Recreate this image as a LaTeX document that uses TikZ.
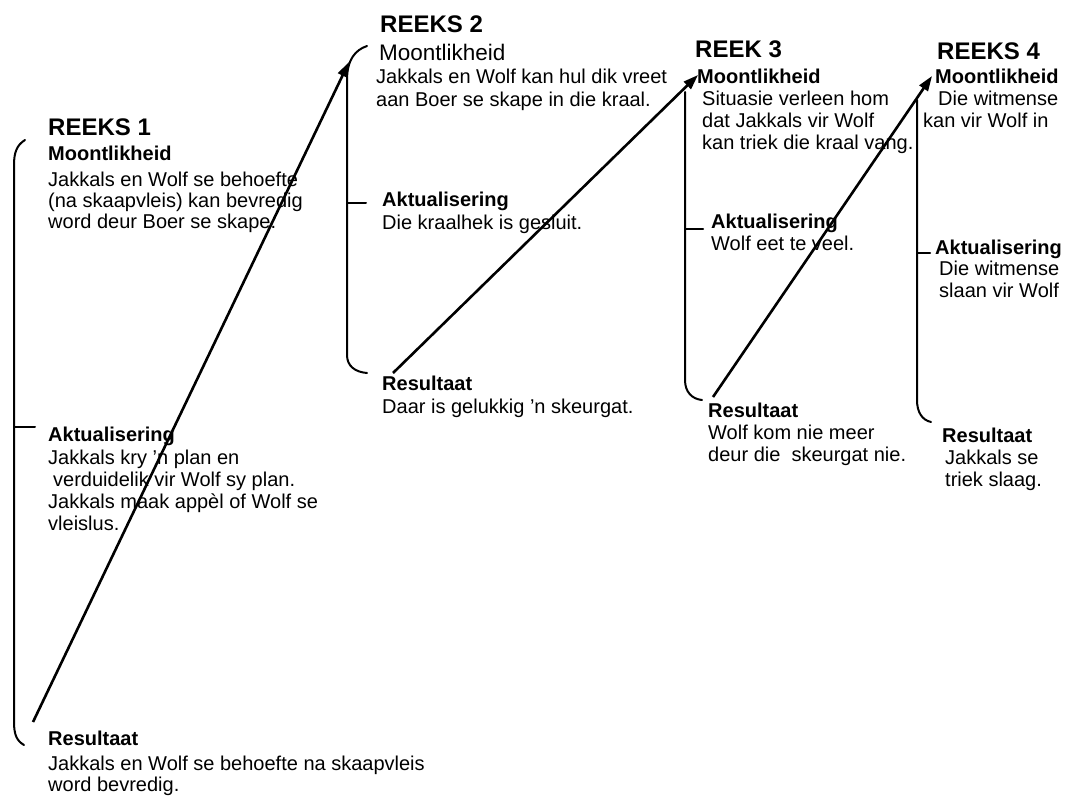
\documentclass[tikz,border=0pt]{standalone}
\usepackage{fontspec}
\setmainfont{Liberation Sans}
\usetikzlibrary{arrows.meta}
\begin{document}
\begin{tikzpicture}[x=1pt,y=-1pt,
  hdr/.style={font=\fontsize{24}{24}\selectfont\bfseries, anchor=base west, inner sep=0pt},
  sub/.style={font=\fontsize{20}{20}\selectfont\bfseries, anchor=base west, inner sep=0pt},
  subreg/.style={font=\fontsize{22.5}{22.5}\selectfont, anchor=base west, inner sep=0pt},
  txt/.style={font=\fontsize{20}{#1}\selectfont, anchor=base west, inner sep=0pt, align=left},
  txt/.default=22,
  brace/.style={line width=2pt, line cap=round},
  flow/.style={line width=2.6pt, -{Triangle[length=15pt,width=10pt]}},
]
\useasboundingbox (0,0) rectangle (1067,796);
% multi-line texts are placed at the baseline of their LAST line
% ---------- REEKS 1
\node[hdr] (r1) at (48,135) {REEKS 1};
\node[sub] (r1m) at (48,160) {Moontlikheid};
\node[txt=21] (r1mt) at (48,228) {Jakkals en Wolf se behoefte\\(na skaapvleis) kan bevredig\\word deur Boer se skape.};
\node[sub] (r1a) at (48,441) {Aktualisering};
\node[txt=22] (r1at) at (48,530) {Jakkals kry 'n plan en\\\hspace{5pt}verduidelik vir Wolf sy plan.\\Jakkals maak app\`el of Wolf se\\vleislus.};
\node[sub] (r1r) at (48,745) {Resultaat};
\node[txt=21] (r1rt) at (48,791) {Jakkals en Wolf se behoefte na skaapvleis\\word bevredig.};
\draw[brace] (25,140) .. controls (17,145) and (14,152) .. (14,165) -- (14,722) .. controls (14,735) and (17,741) .. (24,745);
\draw[brace] (14,427) -- (35,427);
% ---------- REEKS 2
\node[hdr] (r2) at (380,32) {REEKS 2};
\node[subreg] (r2m) at (379,60) {Moontlikheid};
\node[txt=23] (r2mt) at (376,106) {Jakkals en Wolf kan hul dik vreet\\aan Boer se skape in die kraal.};
\node[sub] (r2a) at (382,206) {Aktualisering};
\node[txt] (r2at) at (382,229) {Die kraalhek is gesluit.};
\node[sub] (r2r) at (382,390) {Resultaat};
\node[txt] (r2rt) at (382,413) {Daar is gelukkig 'n skeurgat.};
\draw[brace] (367,46) .. controls (355,50) and (347,60) .. (347,80) -- (347,355) .. controls (347,366) and (355,372) .. (367,373);
\draw[brace] (347,203) -- (366,203);
% ---------- REEK 3
\node[hdr] (r3) at (695,57) {REEK 3};
\node[sub] (r3m) at (697,83) {Moontlikheid};
\node[txt] (r3mt) at (702,149) {Situasie verleen hom\\dat Jakkals vir Wolf\\kan triek die kraal vang.};
\node[sub] (r3a) at (711,228) {Aktualisering};
\node[txt] (r3at) at (711,250) {Wolf eet te veel.};
\node[sub] (r3r) at (708,417) {Resultaat};
\node[txt] (r3rt) at (708,461) {Wolf kom nie meer\\deur die\ \ skeurgat nie.};
\draw[brace] (685,92) -- (685,380) .. controls (685,392) and (692,399) .. (702,400);
\draw[brace] (685,229) -- (703,229);
% ---------- REEKS 4
\node[hdr] (r4) at (937,59) {REEKS 4};
\node[sub] (r4m) at (935,83) {Moontlikheid};
\node[txt] (r4mt) at (923,127) {\hspace{15pt}Die witmense\\kan vir Wolf in};
\node[sub] (r4a) at (935,254) {Aktualisering};
\node[txt] (r4at) at (939,297) {Die witmense\\slaan vir Wolf};
\node[sub] (r4r) at (942,442) {Resultaat};
\node[txt] (r4rt) at (945,486) {Jakkals se\\triek slaag.};
\draw[brace] (917,100) -- (917,400) .. controls (917,412) and (922,420) .. (931,422);
\draw[brace] (917,253) -- (930,253);
% ---------- arrows
\coordinate (a1s) at (33,722);
\coordinate (a1e) at (349,62);
\coordinate (a2s) at (393,373);
\coordinate (a2e) at (698,75);
\coordinate (a3s) at (713,397);
\coordinate (a3e) at (932,76);
\draw[flow] (a1s) -- (a1e);
\draw[flow] (a2s) -- (a2e);
\draw[flow] (a3s) -- (a3e);
\end{tikzpicture}
\end{document}
